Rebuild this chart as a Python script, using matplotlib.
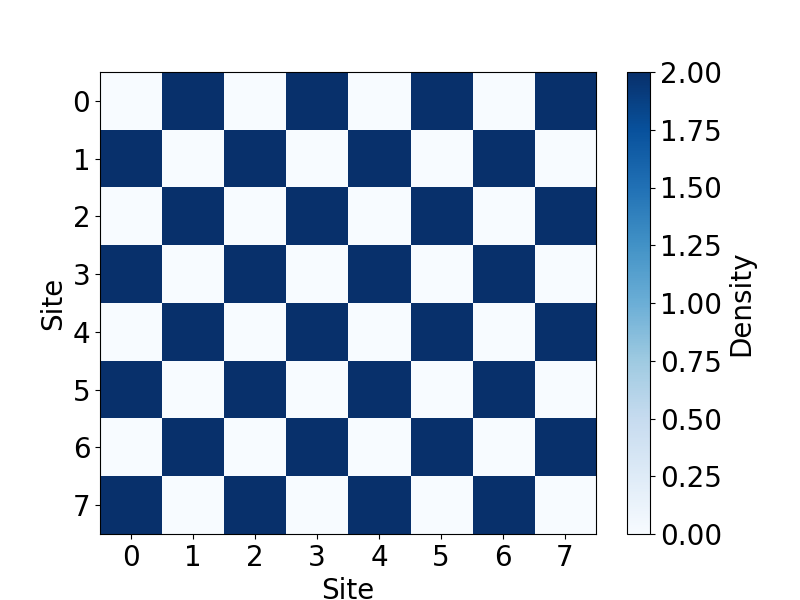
import matplotlib
matplotlib.use("Agg")
import matplotlib.pyplot as plt
import numpy as np

# density per site (rows = site i, cols = site j)
density = [
    [0, 2, 0, 2, 0, 2, 0, 2],
    [2, 0, 2, 0, 2, 0, 2, 0],
    [0, 2, 0, 2, 0, 2, 0, 2],
    [2, 0, 2, 0, 2, 0, 2, 0],
    [0, 2, 0, 2, 0, 2, 0, 2],
    [2, 0, 2, 0, 2, 0, 2, 0],
    [0, 2, 0, 2, 0, 2, 0, 2],
    [2, 0, 2, 0, 2, 0, 2, 0],
]
sites = list(range(8))

plt.rcParams['font.size'] = 20

fig, ax = plt.subplots(figsize=(8, 6), dpi=100)
im = ax.imshow(np.array(density), cmap='Blues', vmin=0, vmax=2, aspect='auto')
ax.set_xticks(sites)
ax.set_yticks(sites)
ax.set_xlabel('Site')
ax.set_ylabel('Site')
cb = fig.colorbar(im, ax=ax)
cb.set_label('Density')

fig.savefig('out.png')
